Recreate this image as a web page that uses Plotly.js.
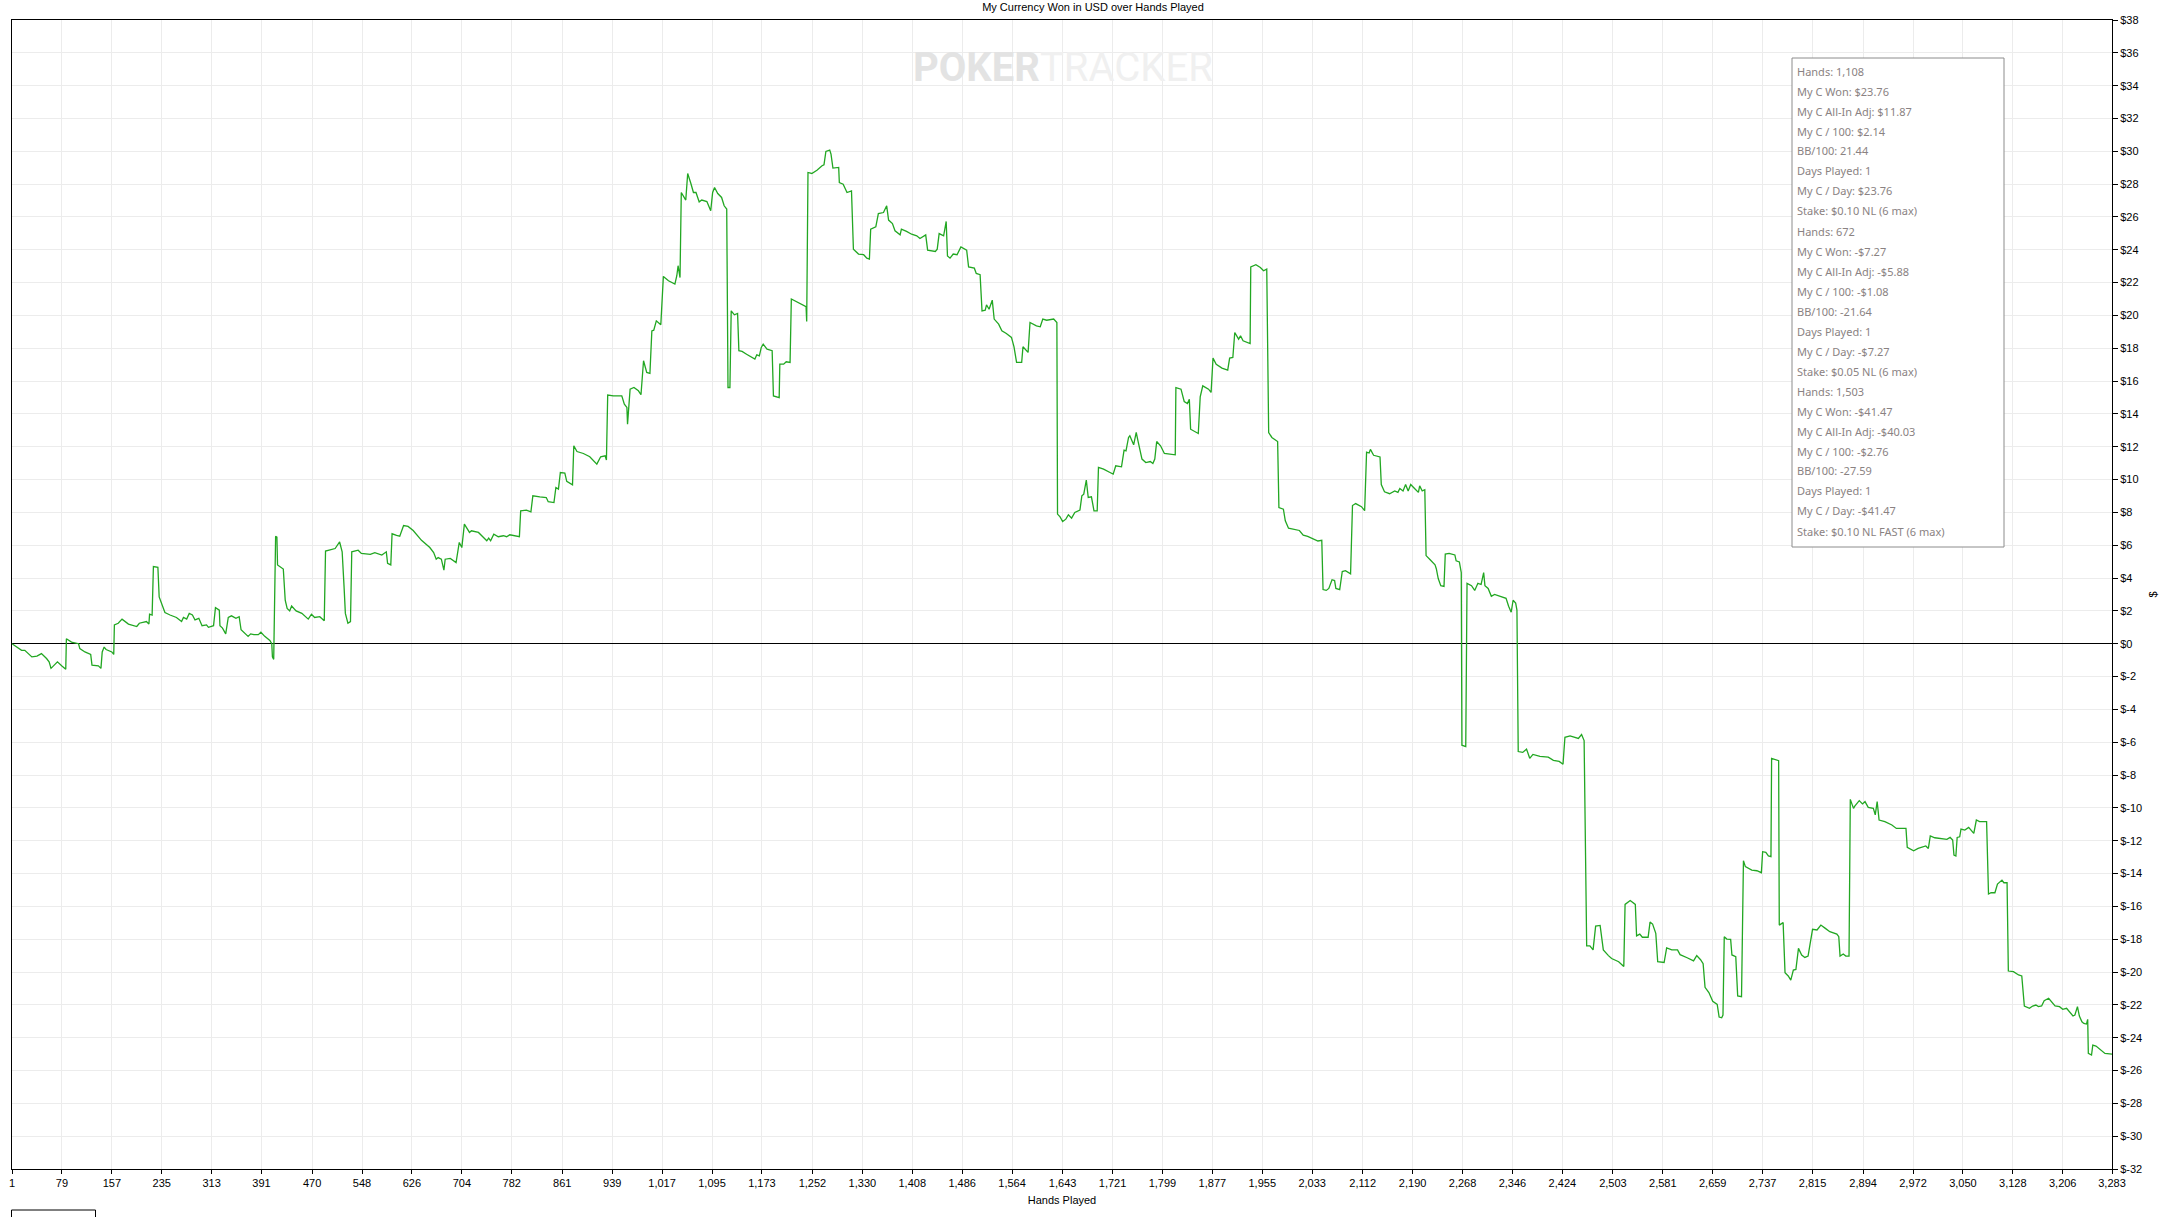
<!DOCTYPE html>
<html><head><meta charset="utf-8">
<script src="https://cdn.plot.ly/plotly-3.0.1.min.js"></script>
<style>html,body{margin:0;padding:0;background:#fff}#chart{width:2168px;height:1217px}</style>
</head><body><div id="chart"></div>
<script>
// ---- data (hand number, cumulative $ won) ----
const handsA = [1,8,16,21,26,32,40,47,55,59,
  62,66,72,79,85,86,94,105,107,115,
  124,126,136,140,142,145,148,157,160,161,
  167,173,183,196,200,211,215,216,220,222,
  229,231,236,240,248,258,266,269,274,278,
  283,287,293,298,305,308,316,319,325,326,
  330,335,339,344,351,356,359,365,370,374,
  379,386,390,396,404,407,408,410,413,415,
  416,425,428,431,435,438,445,454,464,469,
  474,482,489,491,497,506,513,517,520,522,
  526,530,532,542,547,561,568,579,586,588,
  593,595,602,607,613,620,628,632,641];
const wonA = [0,-0.2,-0.4,-0.4,-0.6,-0.8,-0.75,-0.6,-0.9,-1.1,
  -1.5,-1.35,-1.1,-1.35,-1.55,0.3,0.1,0,-0.3,-0.5,
  -0.65,-1.3,-1.35,-1.5,-0.5,-0.2,-0.35,-0.5,-0.65,1.15,
  1.25,1.5,1.2,1.05,1.25,1.35,1.2,1.8,1.75,4.7,
  4.65,2.85,2.35,1.9,1.75,1.6,1.35,1.6,1.5,1.85,
  1.75,1.45,1.55,1.1,1.15,1.0,1.1,2.2,2.05,1.1,
  0.95,0.6,1.6,1.7,1.55,1.65,0.85,0.65,0.45,0.6,
  0.55,0.55,0.7,0.45,0.2,0,-0.8,-0.95,6.55,6.5,
  4.8,4.55,2.65,2.15,2.0,2.3,2.0,1.85,1.5,1.8,
  1.6,1.65,1.4,5.65,5.7,5.8,6.2,5.6,3.45,1.85,
  1.25,1.35,5.6,5.7,5.5,5.45,5.55,5.4,5.6,4.9,
  4.8,6.7,6.6,6.55,7.2,7.15,6.9,6.7,6.3];

const handsB = [654,660,664,667,672,676,678,686,695,700,
  704,708,716,719,730,738,743,746,749,754,
  761,769,774,779,787,794,796,805,812,815,
  826,836,839,848,851,855,858,865,868,877,
  879,884,894,904,915,921,928,930,932,941,
  954,958,962,963,967,973,980,984,988,993,
  998,1001,1004,1008,1015,1019,1027,1037,1040,1042,
  1045,1047,1054,1057,1062,1066,1070,1075,1079,1087,
  1093,1096,1099,1104,1110,1114,1118,1120,1123,1125,
  1130,1135,1137,1142,1149,1157,1162,1165,1169,1172,
  1175,1181,1189,1191,1200,1201,1207,1211,1217,1219,
  1226,1235,1242,1243,1245,1251,1259,1267,1270,1273,
  1279,1281,1284,1293,1294,1300,1306,1313,1316,1324,
  1332,1337];
const wonB = [5.86,5.56,5.15,5.25,5.15,4.48,5.15,5.2,4.95,6.17,
  5.86,7.29,6.78,6.88,6.78,6.43,6.27,6.43,6.27,6.68,
  6.52,6.58,6.52,6.64,6.58,6.52,8.1,8.14,8.04,9.01,
  8.95,8.91,8.65,8.6,9.52,9.42,10.43,10.39,9.89,9.68,
  12.06,11.71,11.59,11.39,10.94,11.39,11.45,11.19,15.15,15.1,
  15.1,14.6,14.4,13.38,15.51,15.61,15.41,15.17,17.24,16.53,
  16.47,19.06,19.1,19.67,19.43,22.38,22.11,21.91,22.42,23.03,
  22.31,27.49,27.03,28.65,28.04,27.49,27.49,26.92,27.03,26.94,
  26.38,27.49,27.8,27.43,27.19,26.68,26.48,15.61,15.61,20.28,
  20.04,20.12,17.85,17.81,17.64,17.48,17.34,17.6,17.54,18.05,
  18.25,17.95,17.85,15.1,15.0,17.03,17.03,17.18,17.14,21.0,
  20.85,20.69,20.53,19.63,28.71,28.65,28.85,29.12,29.18,29.99,
  30.07,29.83,28.98,29.02,28.1,28.0,27.49,27.59,24.04,23.74,
  23.7,23.49];

const handsC = [1341,1343,1351,1355,1363,1368,1371,1377,1381,1389,
  1391,1399,1407,1415,1420,1429,1432,1444,1447,1450,
  1457,1461,1463,1467,1472,1478,1484,1493,1496,1505,
  1508,1514,1517,1522,1524,1528,1533,1536,1543,1548,
  1555,1563,1567,1571,1579,1581,1589,1592,1602,1608,
  1612,1618,1629,1634,1635,1639,1643,1648,1652,1657,
  1662,1670,1673,1676,1680,1683,1688,1692,1697,1699,
  1707,1717,1722,1726,1735,1739,1742,1746,1748,1754,
  1758,1761,1767,1773,1780,1784,1787,1790,1796,1802,
  1808,1819,1820,1828,1833,1838,1841,1843,1855,1858,
  1862,1871,1875,1878,1883,1892,1901,1904,1909,1912,
  1918,1921,1925,1936,1937,1945,1952,1957,1962,
  1965,1970,1979,1981,1988,1991,1996];
const wonC = [23.43,25.26,25.4,26.21,26.27,26.68,25.81,25.6,25.16,24.91,
  25.26,25.12,24.95,24.85,24.69,24.91,23.98,23.9,24.04,24.99,
  24.85,25.73,23.63,23.49,23.74,23.7,24.18,23.98,22.96,22.88,
  22.56,22.48,20.28,20.32,20.65,20.38,20.93,19.78,19.47,19.06,
  18.9,18.66,18.09,17.14,17.14,18.09,17.75,19.57,19.37,19.31,
  19.78,19.71,19.78,19.57,7.9,7.73,7.45,7.59,7.86,7.65,
  8.0,8.14,9.01,9.11,9.97,8.91,8.95,8.1,8.1,10.74,
  10.64,10.43,10.33,10.84,10.78,11.79,11.75,12.57,12.67,12.12,
  12.87,12.32,11.25,11.04,11.1,10.98,11.25,12.32,12.06,11.59,
  11.55,11.51,15.61,15.51,14.76,14.64,14.9,13.07,12.81,15.04,
  15.71,15.51,15.31,17.4,17.03,16.79,16.67,17.4,17.44,18.96,
  18.56,18.76,18.46,18.29,22.96,23.09,22.92,22.72,22.82,
  12.87,12.57,12.32,8.3,8.2,7.49,7.04];

const handsD = [2013,2019,2026,2034,2042,2048,2050,2055,2059,2064,
  2068,2070,2076,2080,2085,2093,2096,2101,2110,2115,
  2118,2122,2124,2129,2139,2141,2146,2154,2162,2167,
  2170,2175,2179,2183,2187,2193,2199,2201,2205,2209,
  2211,2217,2225,2227,2230,2234,2239,2241,2247,2256,
  2258,2263,2265,2266,2267,2273,2275,2282,2287,2292,
  2297,2301,2303,2308,2313,2318,2327,2336,2340,2344,
  2347,2351,2353,2355,2362,2368,2373,2378,2389,2402,
  2410,2419,2425,2428,2436,2443,2449,2454,2458,2462,
  2467,2472,2476,2483,2488,2496,2501,2512,2520,2522,
  2530,2538,2540,2545,2549,2558,2561,2565,2570,2573,
  2583,2587,2595,2604,2608,2619,2629,2634,2640,2644,
  2647,2653,2659,2666,2669,2673];
const wonD = [6.9,6.62,6.54,6.38,6.26,6.3,3.3,3.25,3.37,3.9,
  3.85,3.37,3.3,4.4,4.45,4.26,8.42,8.54,8.35,8.11,
  11.67,11.62,11.84,11.48,11.38,9.7,9.26,9.14,9.31,9.22,
  9.46,9.31,9.7,9.31,9.7,9.46,9.22,9.62,9.31,9.38,
  5.37,5.13,4.81,4.57,3.97,3.54,3.49,5.46,5.51,5.41,
  5.05,4.98,4.57,4.33,-6.18,-6.26,3.68,3.54,3.25,3.68,
  3.61,4.33,3.54,3.37,2.89,3.0,2.89,2.77,2.29,1.92,
  2.65,2.48,2.05,-6.57,-6.62,-6.42,-6.98,-6.74,-6.86,-6.91,
  -7.1,-7.17,-7.34,-5.7,-5.61,-5.7,-5.77,-5.53,-5.9,-18.41,
  -18.41,-18.65,-17.2,-17.16,-18.65,-19.0,-19.18,-19.37,-19.66,-15.88,
  -15.64,-15.88,-17.8,-17.69,-17.88,-17.88,-16.96,-17.08,-17.64,-19.37,
  -19.42,-18.53,-18.65,-18.65,-18.94,-19.13,-19.32,-19.0,-19.25,-19.49,
  -20.93,-21.25,-21.78,-21.97,-22.74,-22.79];

const handsE = [2675,2677,2681,2687,2689,2695,2698,2704,2707,2710,
  2720,2728,2735,2737,2742,2746,2750,2751,2756,2762,
  2763,2769,2772,2777,2781,2785,2789,2793,2798,2803,
  2808,2815,2822,2828,2835,2842,2853,2856,2858,2863,
  2867,2872,2874,2879,2881,2888,2893,2897,2902,2910,
  2913,2916,2919,2928,2939,2946,2954,2961,2963,2973,
  2980,2988,2992,2996,2999,3006,3017,3025,3030,3034,
  3036,3039,3041,3045,3047,3053,3059,3064,3067,3071,
  3076,3082,3087,3090,3094,3100,3104,3111,3114,3119,
  3121,3129,3137,3142,3146,3154,3159,3164,3168,3173,
  3177,3184,3189,3194,3201,3206,3212,3217,3222,3225,
  3229,3232,3236,3239,3243,3245,3246,3251,3253,3258,
  3265,3272,3283];
const wonE = [-22.62,-17.85,-17.99,-18.01,-18.96,-19.07,-21.46,-21.5,-13.22,-13.58,
  -13.79,-13.83,-13.95,-12.67,-12.71,-12.93,-12.97,-6.98,-7.04,-7.12,
  -17.14,-16.99,-20.04,-20.24,-20.49,-19.88,-19.84,-18.56,-18.96,-19.11,
  -19.03,-17.4,-17.44,-17.14,-17.34,-17.54,-17.69,-17.85,-19.03,-18.9,
  -19.03,-19.03,-9.48,-10.03,-9.89,-9.56,-9.76,-9.62,-9.97,-10.03,
  -10.43,-9.62,-10.74,-10.84,-11.04,-11.25,-11.25,-11.25,-12.4,-12.61,
  -12.47,-12.4,-12.32,-12.47,-11.71,-11.82,-11.9,-11.92,-11.8,-11.96,
  -12.87,-12.93,-11.8,-11.76,-11.29,-11.35,-11.19,-11.39,-11.55,-10.74,
  -10.84,-10.84,-10.84,-15.25,-15.17,-15.17,-14.64,-14.4,-14.56,-14.56,
  -19.94,-19.98,-20.18,-20.24,-22.07,-22.21,-22.07,-22.01,-22.11,-22.07,
  -21.75,-21.6,-21.81,-22.07,-22.11,-22.27,-22.21,-22.48,-22.68,-22.62,
  -22.11,-22.68,-23.03,-23.13,-23.17,-22.88,-24.96,-25.06,-24.45,-24.51,
  -24.75,-24.96,-25.0];

const xTickLabels = ['1','79','157','235','313','391','470','548','626','704','782','861','939',
  '1,017','1,095','1,173','1,252','1,330','1,408','1,486','1,564','1,643','1,721','1,799','1,877',
  '1,955','2,033','2,112','2,190','2,268','2,346','2,424','2,503','2,581','2,659','2,737','2,815',
  '2,894','2,972','3,050','3,128','3,206','3,283'];
const yTickValues = [-32,-30,-28,-26,-24,-22,-20,-18,-16,-14,-12,-10,-8,-6,-4,-2,0,
  2,4,6,8,10,12,14,16,18,20,22,24,26,28,30,32,34,36,38];

const infoLines = [
  'Hands: 1,108','My C Won: $23.76','My C All-In Adj: $11.87','My C / 100: $2.14','BB/100: 21.44',
  'Days Played: 1','My C / Day: $23.76','Stake: $0.10 NL (6 max)',
  'Hands: 672','My C Won: -$7.27','My C All-In Adj: -$5.88','My C / 100: -$1.08','BB/100: -21.64',
  'Days Played: 1','My C / Day: -$7.27','Stake: $0.05 NL (6 max)',
  'Hands: 1,503','My C Won: -$41.47','My C All-In Adj: -$40.03','My C / 100: -$2.76','BB/100: -27.59',
  'Days Played: 1','My C / Day: -$41.47','Stake: $0.10 NL FAST (6 max)'];

const chartTitle = 'My Currency Won in USD over Hands Played';
const xTitle = 'Hands Played';
const yTitle = '$';

// ---- build ----
const hands = handsA.concat(handsB, handsC, handsD, handsE);
const won = wonA.concat(wonB, wonC, wonD, wonE);
const xTickVals = xTickLabels.map(s => Number(s.replace(/,/g, '')));
const yTickText = yTickValues.map(v => '$' + v);

const W = 2168, H = 1217, ML = 12, MR = 56, MT = 20, MB = 48;
const PW = W - ML - MR, PH = H - MT - MB;
const px2x = px => (px - ML) / PW;
const py2y = py => 1 - (py - MT) / PH;

const AXFONT = 'Liberation Sans, Arial, sans-serif';

const annotations = [];
annotations.push({
  xref: 'paper', yref: 'paper', x: px2x(1063), y: py2y(68),
  xanchor: 'center', yanchor: 'middle', showarrow: false,
  text: '<b>POKER</b><span style="color:#f0f0f0">TRACKER</span>',
  font: {family: 'Roboto, Arial, sans-serif', size: 40, color: '#e3e3e3'}
});
infoLines.forEach((t, i) => {
  annotations.push({
    xref: 'paper', yref: 'paper', x: px2x(1795), y: py2y(71 + 20 * i),
    xanchor: 'left', yanchor: 'middle', showarrow: false, text: t,
    font: {family: 'Noto Sans, Open Sans, sans-serif', size: 11, color: '#8a8282'}
  });
});

const shapes = [
  {type: 'rect', xref: 'paper', yref: 'paper', layer: 'above',
   x0: px2x(1792), x1: px2x(2004), y0: py2y(547), y1: py2y(58),
   fillcolor: '#ffffff', line: {color: '#8c8c8c', width: 1}},
  {type: 'rect', xref: 'paper', yref: 'paper',
   x0: px2x(11.5), x1: px2x(95.5), y0: py2y(1210), y1: py2y(1230),
   fillcolor: 'rgba(0,0,0,0)', line: {color: '#000', width: 1}}
];

const data = [{
  type: 'scatter', mode: 'lines', x: hands, y: won,
  line: {color: '#22a722', width: 1.3}, hoverinfo: 'x+y'
}];

const layout = {
  width: W, height: H,
  margin: {l: ML, r: MR, t: MT, b: MB, pad: 0},
  paper_bgcolor: '#ffffff', plot_bgcolor: '#ffffff',
  showlegend: false,
  font: {family: AXFONT, size: 11, color: '#000'},
  title: {text: chartTitle, x: 1093 / W, xanchor: 'center', y: 1 - 7 / H, yanchor: 'middle',
          font: {family: AXFONT, size: 11, color: '#000'}},
  xaxis: {
    range: [1, 3283], tickmode: 'array', tickvals: xTickVals, ticktext: xTickLabels,
    showgrid: true, gridcolor: '#ececec', gridwidth: 1,
    showline: true, linecolor: '#000', linewidth: 1, mirror: true,
    ticks: 'outside', ticklen: 4, tickcolor: '#000', tickwidth: 1,
    zeroline: false, automargin: false,
    tickfont: {family: AXFONT, size: 11, color: '#000'},
    title: {text: xTitle, standoff: 8, font: {family: AXFONT, size: 11, color: '#000'}}
  },
  yaxis: {
    range: [-32, 38], side: 'right', tickmode: 'array', tickvals: yTickValues, ticktext: yTickText,
    showgrid: true, gridcolor: '#ececec', gridwidth: 1,
    showline: true, linecolor: '#000', linewidth: 1, mirror: true,
    ticks: 'outside', ticklen: 5, tickcolor: '#000', tickwidth: 1,
    zeroline: true, zerolinecolor: '#000', zerolinewidth: 1, automargin: false,
    tickfont: {family: AXFONT, size: 11, color: '#000'},
    title: {text: yTitle, standoff: 8, font: {family: AXFONT, size: 11, color: '#000'}}
  },
  annotations: annotations,
  shapes: shapes
};

Plotly.newPlot('chart', data, layout, {displayModeBar: false, staticPlot: true});
</script></body></html>
